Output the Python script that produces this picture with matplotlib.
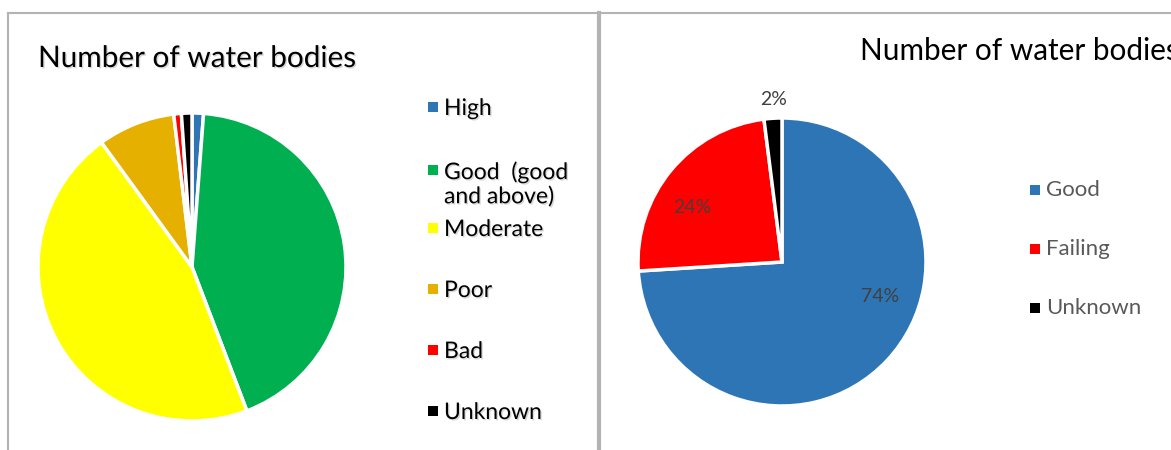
import matplotlib.pyplot as plt
import matplotlib.patheffects as pe
from matplotlib.patches import Rectangle
from matplotlib.lines import Line2D

plt.rcParams['font.family'] = ['Lato', 'DejaVu Sans']

# left chart: water body status (share, %)
status_labels = ['High', 'Good  (good\nand above)', 'Moderate', 'Poor', 'Bad', 'Unknown']
status_values = [1.2, 43.0, 45.8, 8.1, 0.8, 1.1]
status_colors = ['#2E75B6', '#00B050', '#FFFF00', '#E6B000', '#FF0000', '#000000']

# right chart: good vs failing
pass_labels = ['Good', 'Failing', 'Unknown']
pass_values = [74, 24, 2]
pass_colors = ['#2E75B6', '#FF0000', '#000000']
# where Excel put the % labels (fraction of pie radius)
pct_pos = [(0.68, -0.24), (-0.625, 0.38), (-0.06, 1.13)]

W, H = 1171, 450
fig = plt.figure(figsize=(W / 100, H / 100), dpi=100)
shadow = [pe.withSimplePatchShadow(offset=(1, -1), shadow_rgbFace='gray', alpha=0.3)]


def px_axes(cx, cy, r):
    # axes square around a pie centre given in pixels (y from top)
    return fig.add_axes([(cx - r) / W, (H - cy - r) / H, 2 * r / W, 2 * r / H])


# frames
border = '#B3B3B3'
fig.add_artist(Line2D([8 / W, 1], [1 - 13 / H, 1 - 13 / H], color=border, lw=1.5))
fig.add_artist(Line2D([8 / W, 8 / W], [0, 1 - 13 / H], color=border, lw=1.5))
fig.add_artist(Line2D([599 / W, 599 / W], [0, 1 - 13 / H], color=border, lw=3))

# ---- left pie
ax1 = px_axes(192, 267, 154)
ax1.pie(status_values, colors=status_colors, startangle=90, counterclock=False,
        wedgeprops=dict(edgecolor='white', linewidth=2.5))
ax1.set_xlim(-1, 1)
ax1.set_ylim(-1, 1)
for p in ax1.patches:
    p.set_clip_on(False)

fig.text(38 / W, 1 - 67 / H, 'Number of water bodies', fontsize=21.4,
         color='black', va='baseline', path_effects=shadow)

# left legend (even row slots like Excel, long label wraps downward)
y0, dy = 107, 61
for i, (lab, col) in enumerate(zip(status_labels, status_colors)):
    yc = y0 + i * dy + (2 if i == 1 else 0) - (1 if i > 1 else 0)
    fig.add_artist(Rectangle((428 / W, 1 - (yc + 5) / H), 10 / W, 10 / H,
                             facecolor=col, edgecolor='none'))
    fig.text(444 / W, 1 - (yc - 9) / H, lab, fontsize=16.5, color='black',
             va='top', linespacing=1.15, path_effects=shadow)

# ---- right pie
ax2 = px_axes(782, 262, 144)
wedges, texts, autotexts = ax2.pie(
    pass_values, colors=pass_colors, startangle=90, counterclock=False,
    autopct='%d%%',
    wedgeprops=dict(edgecolor='white', linewidth=2.5),
    textprops=dict(fontsize=14, color='#404040'))
ax2.set_xlim(-1, 1)
ax2.set_ylim(-1, 1)
for p in ax2.patches:
    p.set_clip_on(False)
for t, pos in zip(autotexts, pct_pos):
    t.set_position(pos)
    t.set_clip_on(False)

fig.text(860 / W, 1 - 60 / H, 'Number of water bodies', fontsize=21.4,
         color='black', va='baseline')

y0, dy = 190.5, 58.5
for i, (lab, col) in enumerate(zip(pass_labels, pass_colors)):
    yc = y0 + i * dy
    fig.add_artist(Rectangle((1030 / W, 1 - (yc + 5) / H), 10 / W, 10 / H,
                             facecolor=col, edgecolor='none'))
    fig.text(1046 / W, 1 - yc / H, lab, fontsize=16, color='#595959',
             va='center')

fig.savefig('out.png', dpi=100)
